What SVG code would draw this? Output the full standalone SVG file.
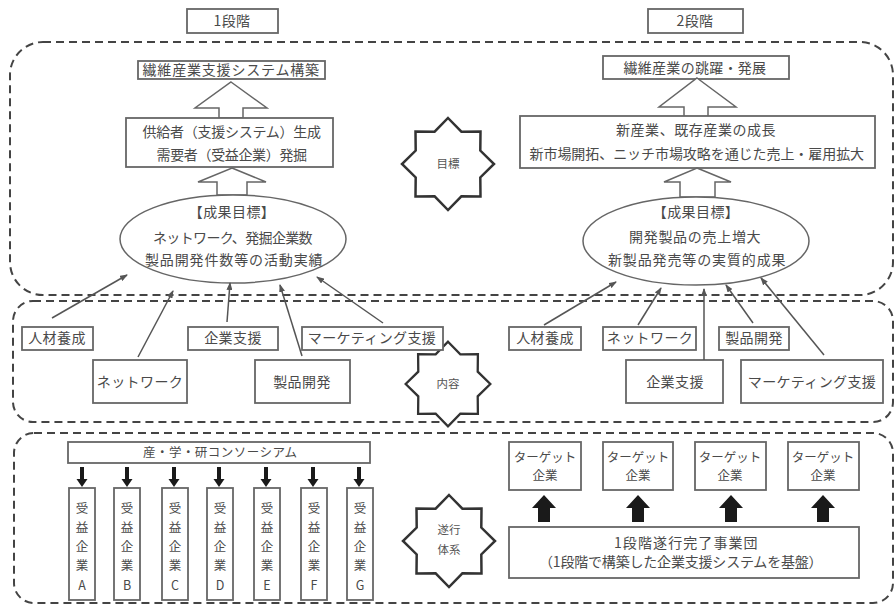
<svg xmlns="http://www.w3.org/2000/svg" width="896" height="611" viewBox="0 0 896 611">
<style>
text{font-family:"Noto Sans CJK JP","Noto Sans CJK SC",sans-serif;fill:#4a4a4a;text-anchor:middle;font-size:14px;letter-spacing:0.4px}
.s{font-size:12.5px;letter-spacing:0}
.st{font-size:11.5px;letter-spacing:0;fill:#555}
.box{fill:#fff;stroke:#666;stroke-width:1.8}
.region{fill:none;stroke:#444;stroke-width:2;stroke-dasharray:8 5}
.hollow{fill:#fff;stroke:#666;stroke-width:1.5}
.ell{fill:#fff;stroke:#666;stroke-width:1.5}
.star{fill:#fff;stroke:#333;stroke-width:2.5;stroke-linejoin:miter}
.thin{stroke:#555;stroke-width:1.5;fill:none;marker-end:url(#ah)}
.blk{fill:#1a1a1a}
</style>
<defs>
<marker id="ah" viewBox="0 0 8 6" refX="7" refY="3" markerWidth="8" markerHeight="6" markerUnits="userSpaceOnUse" orient="auto">
<path d="M0,0 L8,3 L0,6 Z" fill="#555"/>
</marker>
<path id="starShape" d="M0,-46 L13.4,-32.3 L32.5,-32.5 L32.3,-13.4 L46,0 L32.3,13.4 L32.5,32.5 L13.4,32.3 L0,46 L-13.4,32.3 L-32.5,32.5 L-32.3,13.4 L-46,0 L-32.3,-13.4 L-32.5,-32.5 L-13.4,-32.3 Z"/>
<path id="down" d="M-2,0 H2 V12 H5.5 L0,20 L-5.5,12 H-2 Z"/>
<path id="up" d="M0,0 L12,13 H6 V27 H-6 V13 H-12 Z"/>
</defs>

<!-- regions -->
<g id="regions">
<rect class="region" x="10" y="42" width="883" height="253" rx="33"/>
<rect class="region" x="13" y="301" width="880" height="121" rx="20"/>
<rect class="region" x="14" y="433" width="879" height="170" rx="20"/>
</g>

<!-- stage labels -->
<g id="stage1"><rect class="box" x="187" y="9" width="91" height="24"/><text x="232" y="26">1段階</text></g>
<g id="stage2"><rect class="box" x="648" y="9" width="95" height="24"/><text x="695" y="26">2段階</text></g>

<!-- top left -->
<g id="goalL1"><rect class="box" x="138" y="61" width="187" height="18"/><text x="231" y="75" textLength="177" lengthAdjust="spacing">繊維産業支援システム構築</text></g>
<g id="arrowL1"><polygon class="hollow" points="231,82 267,108 243,108 243,118 219,118 219,108 195,108"/></g>
<g id="goalL2"><rect class="box" x="126" y="118" width="207" height="49"/>
<text x="232" y="137" textLength="179" lengthAdjust="spacing">供給者（支援システム）生成</text>
<text x="232" y="160" textLength="151" lengthAdjust="spacing">需要者（受益企業）発掘</text></g>
<g id="arrowL2"><polygon class="hollow" points="232,168 266,182 247,182 247,195 217,195 217,182 198,182"/></g>
<g id="ellL"><ellipse class="ell" cx="233" cy="239" rx="113" ry="44"/>
<text x="232" y="217">【成果目標】</text>
<text x="233" y="243" textLength="160" lengthAdjust="spacing">ネットワーク、発掘企業数</text>
<text x="234" y="265" textLength="178" lengthAdjust="spacing">製品開発件数等の活動実績</text></g>

<!-- top right -->
<g id="goalR1"><rect class="box" x="603" y="56" width="186" height="23"/><text x="695" y="73" textLength="143" lengthAdjust="spacing">繊維産業の跳躍・発展</text></g>
<g id="arrowR1"><polygon class="hollow" points="697,78 736,107 708,107 708,117 684,117 684,107 659,107"/></g>
<g id="goalR2"><rect class="box" x="520" y="116" width="355" height="52"/>
<text x="696" y="135" textLength="160" lengthAdjust="spacing">新産業、既存産業の成長</text>
<text x="697" y="159" textLength="335" lengthAdjust="spacing">新市場開拓、ニッチ市場攻略を通じた売上・雇用拡大</text></g>
<g id="arrowR2"><polygon class="hollow" points="697,168 731,182 715,182 715,197 680,197 680,182 664,182"/></g>
<g id="ellR"><ellipse class="ell" cx="696" cy="241" rx="113" ry="44"/>
<text x="696" y="217">【成果目標】</text>
<text x="695" y="242" textLength="132" lengthAdjust="spacing">開発製品の売上増大</text>
<text x="697" y="265" textLength="178" lengthAdjust="spacing">新製品発売等の実質的成果</text></g>

<!-- stars -->
<g id="star1"><use href="#starShape" class="star" transform="translate(448,164)"/><text class="st" x="448" y="168">目標</text></g>
<g id="star2"><use href="#starShape" class="star" transform="translate(448,384) scale(0.92)"/><text class="st" x="448" y="388">内容</text></g>
<g id="star3"><use href="#starShape" class="star" transform="translate(449,541)"/><text class="st" x="449" y="534">遂行</text><text class="st" x="449" y="554">体系</text></g>

<!-- middle left -->
<g id="mL1"><rect class="box" x="22" y="327" width="71" height="23"/><text x="57" y="343">人材養成</text></g>
<g id="mL2"><rect class="box" x="93" y="360" width="94" height="43"/><text x="140" y="387">ネットワーク</text></g>
<g id="mL3"><rect class="box" x="188" y="327" width="90" height="23"/><text x="233" y="343">企業支援</text></g>
<g id="mL4"><rect class="box" x="255" y="360" width="95" height="43"/><text x="302" y="387">製品開発</text></g>
<g id="mL5"><rect class="box" x="302" y="327" width="141" height="23"/><text x="372" y="343">マーケティング支援</text></g>

<!-- middle right -->
<g id="mR1"><rect class="box" x="509" y="327" width="72" height="23"/><text x="545" y="343">人材養成</text></g>
<g id="mR2"><rect class="box" x="603" y="327" width="93" height="23"/><text x="650" y="343">ネットワーク</text></g>
<g id="mR3"><rect class="box" x="719" y="327" width="70" height="23"/><text x="754" y="343">製品開発</text></g>
<g id="mR4"><rect class="box" x="626" y="360" width="97" height="43"/><text x="675" y="387">企業支援</text></g>
<g id="mR5"><rect class="box" x="741" y="360" width="142" height="43"/><text x="812" y="387">マーケティング支援</text></g>

<!-- bottom left -->
<g id="consortium"><rect class="box" x="68" y="442" width="302" height="21"/><text class="s" x="220" y="457" textLength="154" lengthAdjust="spacing">産・学・研コンソーシアム</text></g>
<g id="benA"><rect class="box" x="69" y="488" width="26" height="112"/><text class="s" x="82" y="513">受</text><text class="s" x="82" y="532">益</text><text class="s" x="82" y="551">企</text><text class="s" x="82" y="570">業</text><text class="s" x="82" y="590">A</text></g>
<g id="benB"><rect class="box" x="114" y="488" width="26" height="112"/><text class="s" x="127" y="513">受</text><text class="s" x="127" y="532">益</text><text class="s" x="127" y="551">企</text><text class="s" x="127" y="570">業</text><text class="s" x="127" y="590">B</text></g>
<g id="benC"><rect class="box" x="162" y="488" width="26" height="112"/><text class="s" x="175" y="513">受</text><text class="s" x="175" y="532">益</text><text class="s" x="175" y="551">企</text><text class="s" x="175" y="570">業</text><text class="s" x="175" y="590">C</text></g>
<g id="benD"><rect class="box" x="207" y="488" width="26" height="112"/><text class="s" x="220" y="513">受</text><text class="s" x="220" y="532">益</text><text class="s" x="220" y="551">企</text><text class="s" x="220" y="570">業</text><text class="s" x="220" y="590">D</text></g>
<g id="benE"><rect class="box" x="254" y="488" width="26" height="112"/><text class="s" x="267" y="513">受</text><text class="s" x="267" y="532">益</text><text class="s" x="267" y="551">企</text><text class="s" x="267" y="570">業</text><text class="s" x="267" y="590">E</text></g>
<g id="benF"><rect class="box" x="301" y="488" width="26" height="112"/><text class="s" x="314" y="513">受</text><text class="s" x="314" y="532">益</text><text class="s" x="314" y="551">企</text><text class="s" x="314" y="570">業</text><text class="s" x="314" y="590">F</text></g>
<g id="benG"><rect class="box" x="347" y="488" width="26" height="112"/><text class="s" x="360" y="513">受</text><text class="s" x="360" y="532">益</text><text class="s" x="360" y="551">企</text><text class="s" x="360" y="570">業</text><text class="s" x="360" y="590">G</text></g>

<!-- bottom right -->
<g id="tgt1"><rect class="box" x="509" y="442" width="72" height="48"/><text class="s" x="545" y="462">ターゲット</text><text class="s" x="545" y="480">企業</text></g>
<g id="tgt2"><rect class="box" x="603" y="442" width="70" height="48"/><text class="s" x="638" y="462">ターゲット</text><text class="s" x="638" y="480">企業</text></g>
<g id="tgt3"><rect class="box" x="695" y="442" width="71" height="48"/><text class="s" x="730" y="462">ターゲット</text><text class="s" x="730" y="480">企業</text></g>
<g id="tgt4"><rect class="box" x="788" y="442" width="71" height="48"/><text class="s" x="823" y="462">ターゲット</text><text class="s" x="823" y="480">企業</text></g>
<g id="stage1team"><rect class="box" x="509" y="527" width="350" height="51"/>
<text x="686" y="548" textLength="144" lengthAdjust="spacing">1段階遂行完了事業団</text>
<text x="681" y="567" textLength="284" lengthAdjust="spacing">（1段階で構築した企業支援システムを基盤）</text></g>

<!-- connectors -->
<g id="connectors">
<line class="thin" x1="52" y1="318" x2="127" y2="275"/>
<line class="thin" x1="138" y1="357" x2="173" y2="291"/>
<line class="thin" x1="227" y1="322" x2="230" y2="283"/>
<line class="thin" x1="302" y1="356" x2="280" y2="285"/>
<line class="thin" x1="383" y1="323" x2="317" y2="277"/>
<line class="thin" x1="544" y1="325" x2="616" y2="282"/>
<line class="thin" x1="638" y1="325" x2="661" y2="288"/>
<line class="thin" x1="704" y1="360" x2="704" y2="289"/>
<line class="thin" x1="753" y1="323" x2="726" y2="285"/>
<line class="thin" x1="824" y1="355" x2="761" y2="278"/>
<use href="#down" class="blk" x="82" y="467"/>
<use href="#down" class="blk" x="127" y="467"/>
<use href="#down" class="blk" x="174" y="467"/>
<use href="#down" class="blk" x="219" y="467"/>
<use href="#down" class="blk" x="266" y="467"/>
<use href="#down" class="blk" x="313" y="467"/>
<use href="#down" class="blk" x="359" y="467"/>
<use href="#up" class="blk" x="544" y="495"/>
<use href="#up" class="blk" x="638" y="495"/>
<use href="#up" class="blk" x="731" y="495"/>
<use href="#up" class="blk" x="823" y="495"/>
</g>
</svg>
